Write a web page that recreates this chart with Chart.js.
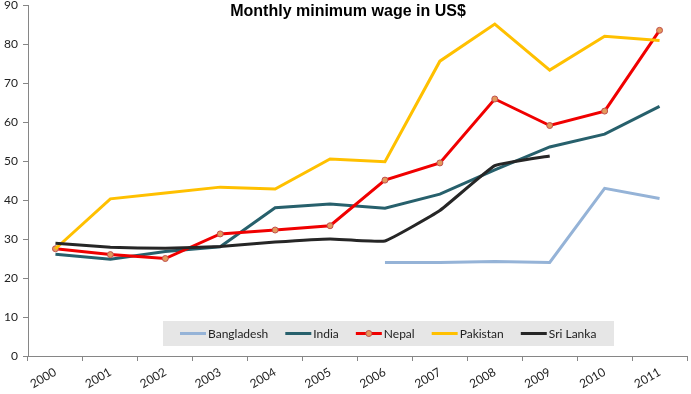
<!DOCTYPE html>
<html>
<head>
<meta charset="utf-8">
<title>Monthly minimum wage in US$</title>
<script src="https://cdn.jsdelivr.net/npm/chart.js@4.4.1/dist/chart.umd.min.js"></script>
<style>
  html, body { margin: 0; padding: 0; background: #fff; }
  #wrap { width: 691px; height: 394px; position: relative; }
</style>
</head>
<body>
<div id="wrap"><canvas id="wageChart"></canvas></div>
<script>
// Chart data
const years = ['2000', '2001', '2002', '2003', '2004', '2005', '2006', '2007', '2008', '2009', '2010', '2011'];
const bangladesh = [null, null, null, null, null, null, 24.0, 24.0, 24.2, 24.0, 43.0, 40.4];
const india = [26.1, 24.8, 26.8, 28.0, 38.0, 39.0, 37.9, 41.5, 47.7, 53.6, 56.9, 64.0];
const nepal = [27.5, 26.0, 25.0, 31.3, 32.3, 33.4, 45.1, 49.5, 65.9, 59.1, 62.8, 83.5];
const pakistan = [27.5, 40.3, 41.8, 43.3, 42.8, 50.5, 49.8, 75.6, 85.1, 73.3, 82.0, 80.9];
const sriLanka = [28.9, 27.9, 27.6, 28.1, 29.2, 30.0, 29.5, 37.3, 48.8, 51.3, null, null];
const yTicks = [0, 10, 20, 30, 40, 50, 60, 70, 80, 90];

const chartTitle = 'Monthly minimum wage in US$';
const tickFont = { family: 'Lato', size: 12 };

// title drawn on top of the plot, like the Excel original
const titlePlugin = {
  id: 'excelTitle',
  afterDraw(chart) {
    const ctx = chart.ctx;
    ctx.save();
    ctx.font = 'bold 16px "Liberation Sans", Arial, sans-serif';
    ctx.fillStyle = '#000';
    ctx.textAlign = 'center';
    ctx.textBaseline = 'middle';
    ctx.fillText(chartTitle, 348, 12);
    ctx.restore();
  }
};

// legend box inside the plot area
const legendPlugin = {
  id: 'boxLegend',
  afterDraw(chart) {
    const ctx = chart.ctx;
    const area = chart.chartArea;
    const left = area.left + 135;
    const top = area.bottom - 35;
    const lineLen = 26;
    const gap = 17;
    ctx.save();
    ctx.font = '12px Lato, sans-serif';
    ctx.fillStyle = '#e6e6e6';
    ctx.fillRect(left, top, 451, 25);
    let x = left + 17;
    const y = top + 12.5;
    chart.data.datasets.forEach(ds => {
      ctx.strokeStyle = ds.borderColor;
      ctx.lineWidth = 3;
      ctx.beginPath();
      ctx.moveTo(x, y);
      ctx.lineTo(x + lineLen, y);
      ctx.stroke();
      if (ds.pointRadius > 0) {
        ctx.beginPath();
        ctx.arc(x + lineLen / 2, y, 3, 0, Math.PI * 2);
        ctx.fillStyle = ds.pointBackgroundColor;
        ctx.fill();
        ctx.lineWidth = 1;
        ctx.strokeStyle = ds.pointBorderColor;
        ctx.stroke();
      }
      ctx.fillStyle = '#222';
      ctx.textBaseline = 'middle';
      ctx.fillText(ds.label, x + lineLen + 2, y + 1);
      x += lineLen + 2 + ctx.measureText(ds.label).width + gap;
    });
    ctx.restore();
  }
};

function makeSet(label, data, color, order) {
  return {
    label: label,
    data: data,
    borderColor: color,
    backgroundColor: color,
    borderWidth: 3,
    pointRadius: 0,
    pointHoverRadius: 0,
    tension: 0,
    spanGaps: false,
    order: order
  };
}

const datasets = [
  makeSet('Bangladesh', bangladesh, '#95b3d7', 5),
  makeSet('India', india, '#27606c', 4),
  makeSet('Nepal', nepal, '#f00000', 3),
  makeSet('Pakistan', pakistan, '#ffc000', 2),
  makeSet('Sri Lanka', sriLanka, '#262626', 1)
];
datasets[2].pointRadius = 3;
datasets[2].pointBackgroundColor = '#e49a5c';
datasets[2].pointBorderColor = '#c0504d';
datasets[2].pointBorderWidth = 1;
datasets[4].tension = 0.1;

const ctx = document.getElementById('wageChart').getContext('2d');
const wageChart = new Chart(ctx, {
  type: 'line',
  data: { labels: years, datasets: datasets },
  options: {
    responsive: true,
    maintainAspectRatio: false,
    animation: false,
    layout: { padding: { top: 5, right: 4, left: 0, bottom: 0 } },
    plugins: {
      legend: { display: false },
      title: { display: false },
      tooltip: { enabled: false }
    },
    scales: {
      x: {
        type: 'category',
        offset: true,
        grid: {
          offset: true,
          drawOnChartArea: false,
          drawTicks: true,
          tickLength: 5,
          color: '#868686'
        },
        border: { color: '#868686', width: 1 },
        ticks: {
          font: tickFont,
          color: '#222',
          minRotation: 30,
          maxRotation: 30,
          padding: 4
        },
        afterFit(scale) { scale.height = 38; }
      },
      y: {
        min: 0,
        max: 90,
        afterBuildTicks(scale) { scale.ticks = yTicks.map(v => ({ value: v })); },
        grid: {
          drawOnChartArea: false,
          drawTicks: true,
          tickLength: 5,
          color: '#868686'
        },
        border: { color: '#868686', width: 1 },
        ticks: {
          font: tickFont,
          color: '#222',
          padding: 5
        },
        afterFit(scale) {
          scale.width = 28;
          scale.paddingTop = 0;
          scale.paddingBottom = 0;
        }
      }
    }
  },
  plugins: [titlePlugin, legendPlugin]
});
</script>
</body>
</html>
